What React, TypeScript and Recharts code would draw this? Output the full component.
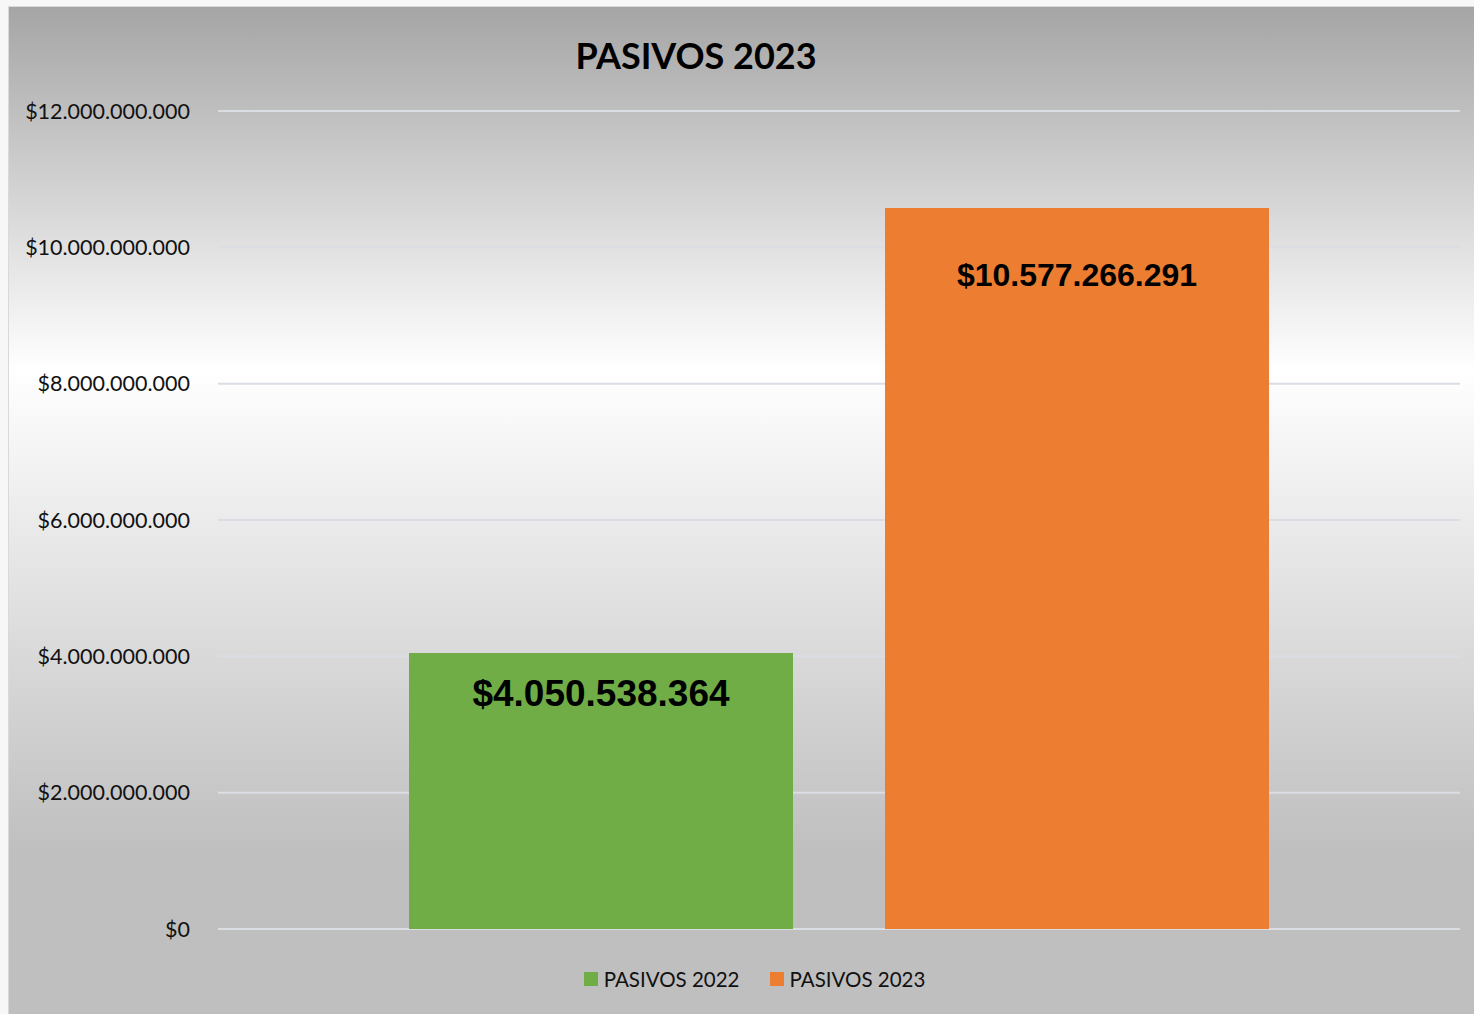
// PasivosChart — liabilities 2022 vs 2023, single-category clustered bars
import { Bar, BarChart, CartesianGrid, LabelList, XAxis, YAxis } from 'recharts';

const categories = [''];
const pasivos2022 = [4050538364];
const pasivos2023 = [10577266291];
const yTicks = [0, 2000000000, 4000000000, 6000000000, 8000000000, 10000000000, 12000000000];

const series = [
  { key: 'p2022', name: 'PASIVOS 2022', color: '#70AD47' },
  { key: 'p2023', name: 'PASIVOS 2023', color: '#ED7D31' },
];

const data = categories.map((name, i) => ({
  name,
  p2022: pasivos2022[i],
  p2023: pasivos2023[i],
}));

function formatPeso(v: number): string {
  // 4050538364 → "$4.050.538.364"
  return '$' + String(Math.round(v)).replace(/\B(?=(\d{3})+(?!\d))/g, '.');
}

const W = 1465;
const H = 1007;

export default function App() {
  return (
    <div
      style={{
        position: 'absolute',
        left: 0,
        top: 0,
        width: 1474,
        height: 1014,
        background: '#f7f7f7',
        overflow: 'hidden',
      }}
    >
      <div
        style={{
          position: 'absolute',
          left: 8,
          top: 6,
          width: W,
          height: H,
          borderLeft: '1px solid #d6d9de',
          borderTop: '1px solid #d6d9de',
          background:
            'linear-gradient(to bottom, #a5a5a5 0%, #ffffff 36%, #bfbfbf 84%, #bfbfbf 100%)',
        }}
      >
        <div
          style={{
            position: 'absolute',
            left: 0,
            top: 28,
            width: 1374,
            textAlign: 'center',
            fontFamily: 'Lato, sans-serif',
            fontWeight: 700,
            fontSize: 36,
            color: '#000',
            lineHeight: '40px',
          }}
        >
          PASIVOS 2023
        </div>
        <BarChart
          width={W}
          height={H}
          data={data}
          margin={{ top: 104, right: 14, bottom: 85, left: 0 }}
          barCategoryGap={191}
          barGap={92}
        >
          <CartesianGrid vertical={false} stroke="#dadde3" strokeWidth={2} />
          <XAxis dataKey="name" hide />
          <YAxis
            domain={[0, 12000000000]}
            ticks={yTicks}
            interval={0}
            width={209}
            axisLine={false}
            tickLine={false}
            tickSize={0}
            tickMargin={28}
            tickFormatter={formatPeso}
            tick={{ fontSize: 21.5, fill: '#111', fontFamily: 'Lato, sans-serif' }}
          />
          <Bar dataKey="p2022" name="PASIVOS 2022" fill="#70AD47" isAnimationActive={false}>
            <LabelList
              dataKey="p2022"
              position="insideTop"
              offset={27}
              formatter={(v: any) => formatPeso(Number(v))}
              style={{
                fontSize: 37,
                fontWeight: 700,
                fontFamily: '"Liberation Sans", Arial, sans-serif',
                fill: '#000',
              }}
            />
          </Bar>
          <Bar dataKey="p2023" name="PASIVOS 2023" fill="#ED7D31" isAnimationActive={false}>
            <LabelList
              dataKey="p2023"
              position="insideTop"
              offset={55}
              formatter={(v: any) => formatPeso(Number(v))}
              style={{
                fontSize: 32,
                fontWeight: 700,
                fontFamily: '"Liberation Sans", Arial, sans-serif',
                fill: '#000',
              }}
            />
          </Bar>
        </BarChart>
        <div
          style={{
            position: 'absolute',
            left: 0,
            top: 960,
            width: 1491,
            display: 'flex',
            justifyContent: 'center',
            fontFamily: 'Lato, sans-serif',
            fontSize: 20.5,
            color: '#111',
          }}
        >
          {series.map((s) => (
            <div key={s.key} style={{ display: 'flex', alignItems: 'center', margin: '0 15px' }}>
              <span
                style={{
                  display: 'inline-block',
                  width: 14,
                  height: 14,
                  background: s.color,
                  marginRight: 6,
                }}
              />
              <span>{s.name}</span>
            </div>
          ))}
        </div>
      </div>
    </div>
  );
}
